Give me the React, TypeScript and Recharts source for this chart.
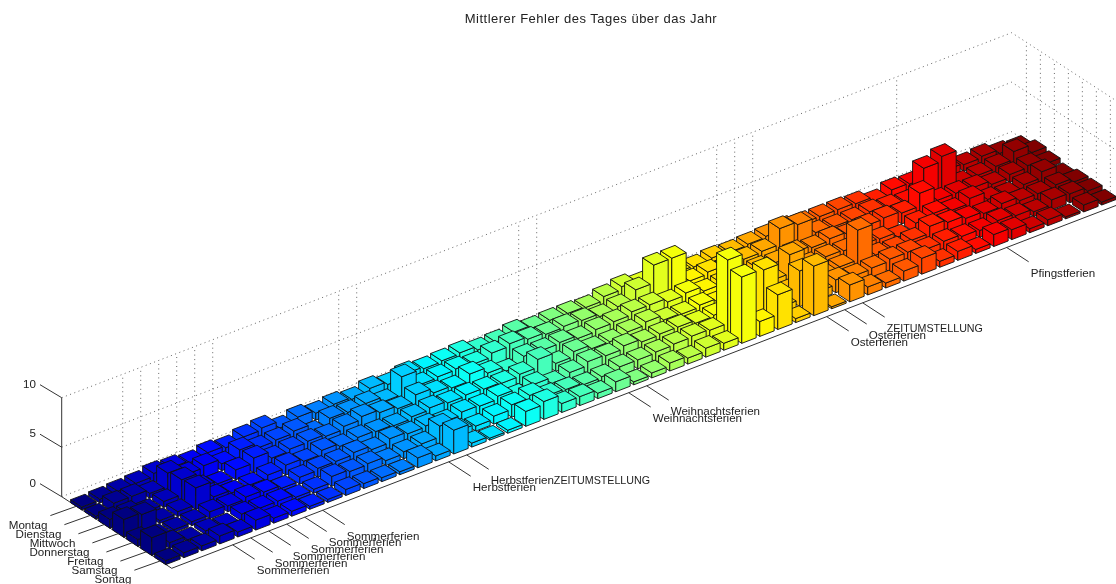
import { ScatterChart, Scatter, XAxis, YAxis } from "recharts";

// Mean error per weekday (rows) and calendar week (columns)
const montag = [0.3, 0.4, 0.5, 0.6, 0.9, 0.8, 0.6, 0.9, 0.7, 1.1, 1.3, 0.6, 1.0, 0.7, 0.9, 0.7, 1.1, 0.8, 1.2, 1.0, 1.1, 1.2, 0.8, 0.9, 1.2, 0.9, 1.0, 1.0, 0.9, 1.3, 1.6, 1.2, 1.3, 0.9, 0.8, 1.0, 0.9, 1.0, 1.1, 1.2, 1.0, 1.0, 1.0, 0.9, 0.4, 0.9, 0.8, 0.9, 0.8, 0.65, 0.8, 0.4, 0.2];
const dienstag = [0.3, 0.9, 0.9, 0.5, 1.85, 1.0, 1.2, 0.7, 1.4, 0.9, 1.0, 1.2, 0.3, 1.1, 1.0, 1.2, 0.7, 2.5, 1.0, 1.1, 1.2, 1.0, 1.4, 1.65, 1.4, 1.2, 1.3, 1.2, 0.9, 1.2, 2.2, 4.0, 4.0, 1.0, 1.2, 0.9, 1.1, 1.2, 2.8, 2.5, 1.0, 0.9, 0.9, 1.0, 0.8, 0.6, 3.3, 3.8, 0.4, 0.5, 0.7, 1.5, 0.7];
const mittwoch = [0.9, 0.8, 0.3, 0.6, 2.1, 0.6, 0.3, 1.0, 1.5, 0.8, 1.0, 1.1, 0.9, 1.2, 1.5, 1.2, 0.9, 1.6, 1.1, 0.9, 1.6, 1.0, 0.5, 1.3, 1.2, 1.3, 1.0, 1.2, 1.3, 1.6, 1.6, 1.2, 1.4, 0.9, 1.0, 0.8, 1.1, 1.0, 1.3, 1.1, 1.3, 1.0, 1.2, 1.3, 1.1, 2.4, 1.0, 1.0, 0.9, 0.5, 0.8, 1.0, 0.5];
const donnerstag = [1.8, 1.6, 0.3, 0.5, 2.2, 0.6, 0.3, 0.4, 0.7, 1.0, 0.7, 1.1, 0.8, 1.0, 0.9, 0.8, 1.0, 1.2, 1.0, 1.1, 1.0, 0.9, 1.1, 1.9, 0.8, 1.3, 0.9, 0.9, 1.2, 1.5, 1.0, 0.9, 1.1, 0.7, 0.9, 0.8, 0.8, 2.7, 1.0, 1.1, 1.0, 0.9, 0.8, 0.3, 1.0, 1.3, 0.9, 1.4, 0.6, 0.4, 0.7, 1.3, 0.2];
const freitag = [0.7, 0.3, 0.3, 0.4, 0.7, 0.6, 0.8, 0.6, 0.3, 0.7, 0.9, 0.9, 1.1, 0.7, 1.1, 0.9, 1.0, 0.7, 1.0, 0.9, 1.2, 0.5, 1.0, 0.4, 0.8, 1.2, 1.1, 1.4, 1.1, 1.2, 1.2, 0.9, 1.0, 0.8, 0.7, 1.0, 0.6, 0.7, 0.9, 1.0, 4.0, 0.8, 0.7, 0.9, 1.6, 1.3, 1.0, 0.8, 1.1, 0.7, 0.7, 0.9, 0.5];
const samstag = [1.8, 0.6, 0.2, 0.4, 0.2, 0.7, 0.6, 0.6, 0.3, 0.4, 1.0, 0.8, 0.9, 0.5, 0.7, 0.8, 1.9, 0.7, 0.5, 0.8, 1.25, 1.5, 0.8, 0.7, 0.5, 0.6, 0.9, 0.9, 1.0, 1.1, 1.2, 1.1, 7.5, 0.8, 5.1, 0.7, 3.6, 0.8, 1.3, 1.0, 1.1, 1.3, 1.3, 0.9, 1.0, 0.8, 0.7, 1.0, 0.8, 0.5, 1.0, 0.9, 0.5];
const sonntag = [0.4, 0.5, 0.5, 0.8, 0.5, 1.0, 0.5, 0.5, 0.3, 0.3, 0.6, 0.5, 0.4, 0.3, 1.0, 0.5, 2.4, 0.4, 0.2, 0.3, 1.5, 1.8, 0.9, 0.9, 0.55, 1.0, 0.3, 0.5, 0.8, 0.6, 0.9, 0.7, 6.7, 1.5, 3.5, 0.4, 5.0, 0.2, 1.7, 0.8, 0.5, 1.0, 1.6, 0.6, 0.9, 0.4, 1.2, 1.0, 0.4, 0.6, 0.2, 0.7, 0.3];

const dayRows = [montag, dienstag, mittwoch, donnerstag, freitag, samstag, sonntag];
const dayNames = ["Montag", "Dienstag", "Mittwoch", "Donnerstag", "Freitag", "Samstag", "Sontag"];
const zLevels = [0, 5, 10];

const holidayWeeks = [4, 5, 6, 7, 8, 9, 16, 17, 26, 27, 37, 38, 39, 47];
const holidayNames = [
  "Sommerferien", "Sommerferien", "Sommerferien", "Sommerferien", "Sommerferien", "Sommerferien",
  "Herbstferien", "HerbstferienZEITUMSTELLUNG",
  "Weihnachtsferien", "Weihnachtsferien",
  "Osterferien", "Osterferien", "ZEITUMSTELLUNG",
  "Pfingstferien",
];

const WEEK_MIN = 0.61;
const WEEK_MAX = 53.39;
const DAY_MIN = -0.05;
const DAY_MAX = 7.81;

// the plot rectangle is the floor of the box before it gets sheared
const LEFT = 61.7;
const TOP = 496.7;
const FLOOR_W = 950;
const FLOOR_H = 71.6;

const PX_WEEK = FLOOR_W / (WEEK_MAX - WEEK_MIN);
const PX_DAY = FLOOR_H / (DAY_MAX - DAY_MIN);
const SHEAR_X = 110 / FLOOR_H;
const SHEAR_Y = 365 / FLOOR_W;
const PX_Z = 9.9;
const BAR = 0.4;

const FONT = "'Liberation Sans', Arial, sans-serif";
const TEXT_COLOR = "#222";
const GRID_COLOR = "#666";
const AXIS_COLOR = "#333";

// scale position (cx, cy) plus an offset in data units -> screen point
const project = (cx: number, cy: number, dw = 0, dd = 0, z = 0) => {
  const px = cx + dw * PX_WEEK;
  const py = cy + dd * PX_DAY;
  return {
    x: px + (py - TOP) * SHEAR_X,
    y: py - (px - LEFT) * SHEAR_Y - z * PX_Z,
  };
};

const poly = (pts: { x: number; y: number }[]) => pts.map((p) => `${p.x.toFixed(2)},${p.y.toFixed(2)}`).join(" ");

const jet = (t: number) => {
  const ch = (v: number) => Math.round(255 * Math.max(0, Math.min(1, v)));
  const r = Math.min(4 * t - 1.5, -4 * t + 4.5);
  const g = Math.min(4 * t - 0.5, -4 * t + 3.5);
  const b = Math.min(4 * t + 0.5, -4 * t + 2.5);
  return `rgb(${ch(r)},${ch(g)},${ch(b)})`;
};

const barData: { week: number; day: number; value: number }[] = [];
for (let w = montag.length; w >= 1; w--) {
  dayRows.forEach((row, i) => barData.push({ week: w, day: i + 1, value: row[w - 1] }));
}
const zData = zLevels.map((level) => ({ week: WEEK_MIN, day: DAY_MIN, level }));
const weekGrid = holidayWeeks.map((week) => ({ week, day: DAY_MIN }));
const dayGrid = dayNames.map((_, i) => ({ week: WEEK_MAX, day: i + 1 }));
const weekLabels = holidayWeeks.map((week, i) => ({ week, day: DAY_MAX, label: holidayNames[i] }));
const dayLabels = dayNames.map((label, i) => ({ week: WEEK_MIN, day: i + 1, label }));
const corner = [{ week: WEEK_MIN, day: DAY_MIN }];

const Bar3D = ({ cx, cy, payload }: any) => {
  const h = payload.value;
  const color = jet((payload.week - 1) / (montag.length - 1));
  const backL = project(cx, cy, -BAR, -BAR, h);
  const backR = project(cx, cy, BAR, -BAR, h);
  const frontL = project(cx, cy, -BAR, BAR, h);
  const frontR = project(cx, cy, BAR, BAR, h);
  const botBackL = project(cx, cy, -BAR, -BAR);
  const botFrontL = project(cx, cy, -BAR, BAR);
  const botFrontR = project(cx, cy, BAR, BAR);
  return (
    <g fill={color} stroke="#111" strokeWidth={0.9} strokeLinejoin="round">
      <polygon points={poly([backL, frontL, botFrontL, botBackL])} />
      <polygon points={poly([frontL, frontR, botFrontR, botFrontL])} />
      <polygon points={poly([backL, backR, frontR, frontL])} />
    </g>
  );
};

// dotted grid on the two back walls, z axis and its labels
const ZLevel = ({ cx, cy, payload }: any) => {
  const a = project(cx, cy, 0, 0, payload.level);
  const b = project(cx + FLOOR_W, cy, 0, 0, payload.level);
  const c = project(cx + FLOOR_W, cy + FLOOR_H, 0, 0, payload.level);
  const tx = a.x - 21.7;
  const ty = a.y - 13;
  return (
    <g>
      <polyline points={poly([a, b, c])} fill="none" stroke={GRID_COLOR} strokeDasharray="1 3.5" />
      <line x1={a.x} y1={a.y} x2={tx} y2={ty} stroke={AXIS_COLOR} />
      <text x={tx - 4} y={ty + 3} textAnchor="end" fontFamily={FONT} fontSize={11.6} fill={TEXT_COLOR}>
        {payload.level}
      </text>
    </g>
  );
};

const WallLine = ({ cx, cy }: any) => {
  const a = project(cx, cy);
  const b = project(cx, cy, 0, 0, 10);
  return <line x1={a.x} y1={a.y} x2={b.x} y2={b.y} stroke={GRID_COLOR} strokeDasharray="1 3.5" />;
};

const ZAxisLine = ({ cx, cy }: any) => {
  const a = project(cx, cy);
  const b = project(cx, cy, 0, 0, 10);
  return <line x1={a.x} y1={a.y} x2={b.x} y2={b.y} stroke={AXIS_COLOR} />;
};

const FloorEdges = ({ cx, cy }: any) => {
  const back = project(cx, cy);
  const front = project(cx, cy + FLOOR_H);
  const end = project(cx + FLOOR_W, cy + FLOOR_H);
  return <polyline points={poly([back, front, end])} fill="none" stroke={AXIS_COLOR} />;
};

const WeekLabel = ({ cx, cy, payload }: any) => {
  const a = project(cx, cy);
  const tx = a.x + 22;
  const ty = a.y + 14.3;
  const plain = payload.label.replace("ZEITUMSTELLUNG", "");
  const caps = payload.label.includes("ZEITUMSTELLUNG");
  return (
    <g>
      <line x1={a.x} y1={a.y} x2={tx} y2={ty} stroke={AXIS_COLOR} />
      <text x={tx + 2} y={ty + 15} fontFamily={FONT} fontSize={11.6} fill={TEXT_COLOR}>
        {plain}
        {caps && <tspan fontSize={10.7}>ZEITUMSTELLUNG</tspan>}
      </text>
    </g>
  );
};

const DayLabel = ({ cx, cy, payload }: any) => {
  const a = project(cx, cy);
  const tx = a.x - 26;
  const ty = a.y + 9.3;
  return (
    <g>
      <line x1={a.x} y1={a.y} x2={tx} y2={ty} stroke={AXIS_COLOR} />
      <text x={tx - 3} y={ty + 13} textAnchor="end" fontFamily={FONT} fontSize={11.6} fill={TEXT_COLOR}>
        {payload.label}
      </text>
    </g>
  );
};

const App = () => {
  return (
    <div style={{ position: "fixed", left: 0, top: 0, width: 1116, height: 584, background: "#fff", overflow: "hidden", filter: "blur(0.45px)" }}>
      <div style={{ position: "absolute", left: 0, right: 0, top: 11, paddingLeft: 66, textAlign: "center", fontFamily: FONT, fontSize: 13, letterSpacing: 0.48, color: TEXT_COLOR }}>
        Mittlerer Fehler des Tages über das Jahr
      </div>
      <ScatterChart
        width={1116}
        height={584}
        margin={{ left: LEFT, top: TOP, right: 1116 - LEFT - FLOOR_W, bottom: 584 - TOP - FLOOR_H }}
      >
        <XAxis type="number" dataKey="week" domain={[WEEK_MIN, WEEK_MAX]} hide />
        <YAxis type="number" dataKey="day" domain={[DAY_MIN, DAY_MAX]} reversed hide />
        <Scatter data={zData} shape={ZLevel} isAnimationActive={false} />
        <Scatter data={weekGrid} shape={WallLine} isAnimationActive={false} />
        <Scatter data={dayGrid} shape={WallLine} isAnimationActive={false} />
        <Scatter data={corner} shape={ZAxisLine} isAnimationActive={false} />
        <Scatter data={corner} shape={FloorEdges} isAnimationActive={false} />
        <Scatter data={barData} shape={Bar3D} isAnimationActive={false} />
        <Scatter data={weekLabels} shape={WeekLabel} isAnimationActive={false} />
        <Scatter data={dayLabels} shape={DayLabel} isAnimationActive={false} />
      </ScatterChart>
    </div>
  );
};

export default App;
